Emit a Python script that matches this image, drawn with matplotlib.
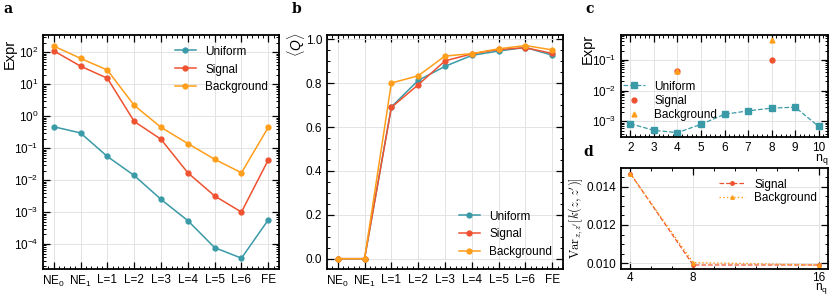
import matplotlib

matplotlib.use("Agg")
import matplotlib.pyplot as plt
from matplotlib.ticker import AutoMinorLocator, FixedLocator, LogLocator, NullFormatter

plt.rcParams["font.family"] = ["Liberation Sans", "DejaVu Sans"]
plt.rcParams["mathtext.fontset"] = "custom"
plt.rcParams["mathtext.rm"] = "Liberation Sans"
plt.rcParams["mathtext.it"] = "Liberation Sans:italic"

# Colours
UNIFORM = "#3a9aa8"
SIGNAL = "#ef5230"
BACKGROUND = "#ff9e1b"

# Panel a / b: circuit stages
stages = ["NE$_0$", "NE$_1$", "L=1", "L=2", "L=3", "L=4", "L=5", "L=6", "FE"]
expr_uniform = [0.47, 0.30, 0.055, 0.014, 0.0025, 0.00054, 7.7e-5, 3.6e-5, 5.7e-4]
expr_signal = [112, 37, 15.5, 0.69, 0.19, 0.017, 0.0032, 0.001, 0.043]
expr_background = [158, 65, 28, 2.2, 0.45, 0.14, 0.045, 0.017, 0.45]

q_uniform = [0.0, 0.0, 0.692, 0.813, 0.877, 0.927, 0.947, 0.963, 0.928]
q_signal = [0.0, 0.0, 0.690, 0.793, 0.902, 0.934, 0.954, 0.962, 0.936]
q_background = [0.0, 0.0, 0.801, 0.834, 0.924, 0.935, 0.957, 0.972, 0.952]

# Panel c: expressibility vs number of qubits
nq_uniform = [2, 3, 4, 5, 6, 7, 8, 9, 10]
c_uniform = [8.4e-4, 5.1e-4, 4.3e-4, 8.0e-4, 1.7e-3, 2.2e-3, 2.7e-3, 2.9e-3, 6.9e-4]
nq_data = [4, 8]
c_signal = [0.043, 0.10]
c_background = [0.043, 0.45]

# Panel d: kernel variance
nq_var = [4, 8, 16]
var_signal = [0.01470, 0.00990, 0.00990]
var_background = [0.01468, 0.01003, 0.00990]

W, H = 831, 295
fig = plt.figure(figsize=(W / 100, H / 100), dpi=100)


def px_axes(left, right, top, bottom):
    return fig.add_axes([left / W, 1 - bottom / H, (right - left) / W, (bottom - top) / H])


def style(ax):
    for s in ax.spines.values():
        s.set_linewidth(1.3)
    ax.tick_params(which="both", direction="in", top=True, right=True, labelsize=8.5)
    ax.tick_params(which="major", length=5, width=0.9)
    ax.tick_params(which="minor", length=2.5, width=0.7)
    ax.grid(True, color="#e3e3e3", linewidth=0.7)
    ax.set_axisbelow(True)


def panel_label(x, y, s):
    fig.text(x / W, 1 - y / H, s, family="DejaVu Serif", fontweight="bold",
             fontsize=10, va="center")


line_kw = dict(marker="o", markersize=3.5, linewidth=1.1)

# ---- a ----
ax_a = px_axes(43, 279, 35, 269)
style(ax_a)
x = list(range(len(stages)))
ax_a.plot(x, expr_uniform, color=UNIFORM, label="Uniform", **line_kw)
ax_a.plot(x, expr_signal, color=SIGNAL, label="Signal", **line_kw)
ax_a.plot(x, expr_background, color=BACKGROUND, label="Background", **line_kw)
ax_a.set_yscale("log")
ax_a.set_ylim(1.65e-5, 350)
ax_a.set_xlim(-0.4, 8.4)
ax_a.set_xticks(x)
ax_a.set_xticklabels(stages)
ax_a.xaxis.set_minor_locator(AutoMinorLocator(5))
ax_a.yaxis.set_major_locator(LogLocator(base=10, numticks=20))
ax_a.yaxis.set_minor_locator(LogLocator(base=10, subs=range(2, 10), numticks=20))
ax_a.yaxis.set_minor_formatter(NullFormatter())
ax_a.set_ylabel("Expr", fontsize=10.5)
ax_a.yaxis.set_label_coords(-0.11, 0.92)
ax_a.legend(loc="upper right", frameon=False, fontsize=8.5, handlelength=1.8)
panel_label(3, 9, "a")

# ---- b ----
ax_b = px_axes(327, 563, 35, 269)
style(ax_b)
ax_b.plot(x, q_uniform, color=UNIFORM, label="Uniform", **line_kw)
ax_b.plot(x, q_signal, color=SIGNAL, label="Signal", **line_kw)
ax_b.plot(x, q_background, color=BACKGROUND, label="Background", **line_kw)
ax_b.set_ylim(-0.047, 1.02)
ax_b.set_xlim(-0.4, 8.4)
ax_b.set_xticks(x)
ax_b.set_xticklabels(stages)
ax_b.set_yticks([0.0, 0.2, 0.4, 0.6, 0.8, 1.0])
ax_b.xaxis.set_minor_locator(AutoMinorLocator(5))
ax_b.yaxis.set_minor_locator(AutoMinorLocator(4))
ax_b.set_ylabel(r"$\langle Q \rangle$", fontsize=10)
ax_b.yaxis.set_label_coords(-0.085, 0.96)
ax_b.legend(loc="lower right", frameon=False, fontsize=8.5, handlelength=1.8)
panel_label(292, 9, "b")

# ---- c ----
ax_c = px_axes(621, 828, 35, 137)
style(ax_c)
ax_c.plot(nq_uniform, c_uniform, color=UNIFORM, linestyle="--", marker="s",
          markersize=4, linewidth=0.9, label="Uniform")
ax_c.plot(nq_data, c_signal, color=SIGNAL, linestyle="none", marker="o",
          markersize=3.5, label="Signal")
ax_c.plot(nq_data, c_background, color=BACKGROUND, linestyle="none", marker="^",
          markersize=3.5, label="Background")
ax_c.set_yscale("log")
ax_c.set_ylim(3.1e-4, 0.65)
ax_c.set_xlim(1.6, 10.4)
ax_c.set_xticks(nq_uniform)
ax_c.xaxis.set_minor_locator(AutoMinorLocator(5))
ax_c.yaxis.set_major_locator(LogLocator(base=10, numticks=20))
ax_c.yaxis.set_minor_locator(LogLocator(base=10, subs=range(2, 10), numticks=20))
ax_c.yaxis.set_minor_formatter(NullFormatter())
ax_c.set_ylabel("Expr", fontsize=10.5)
ax_c.yaxis.set_label_coords(-0.125, 0.86)
ax_c.set_xlabel(r"n$_\mathrm{q}$", loc="right", fontsize=9, labelpad=-1)
ax_c.legend(loc="lower left", bbox_to_anchor=(-0.04, 0.05), frameon=False,
            fontsize=8.5, handlelength=1.8, labelspacing=0.2)
panel_label(585, 9, "c")

# ---- d ----
ax_d = px_axes(621, 828, 168, 269)
style(ax_d)
ax_d.tick_params(axis="x", pad=2)
ax_d.plot(nq_var, var_signal, color=SIGNAL, linestyle="--", marker="o",
          markersize=2.5, linewidth=0.9, label="Signal")
ax_d.plot(nq_var, var_background, color=BACKGROUND, linestyle=":", marker="^",
          markersize=2.5, linewidth=1.0, label="Background")
ax_d.set_ylim(0.00969, 0.01499)
ax_d.set_xlim(3.4, 16.6)
ax_d.set_xticks(nq_var)
ax_d.xaxis.set_minor_locator(FixedLocator([5.333, 6.667, 9.333, 10.667, 12, 13.333, 14.667]))
ax_d.set_yticks([0.010, 0.012, 0.014])
ax_d.yaxis.set_minor_locator(AutoMinorLocator(4))
ax_d.set_ylabel(r"$\mathrm{Var}_{z,z'}[k(z,z')]$", fontsize=9, math_fontfamily="cm")
ax_d.yaxis.set_label_coords(-0.175, 0.5)
ax_d.set_xlabel(r"n$_\mathrm{q}$", loc="right", fontsize=8.5, labelpad=-2)
ax_d.legend(loc="upper right", frameon=False, fontsize=8.5, handlelength=2.2, labelspacing=0.15)
panel_label(583, 152, "d")

fig.savefig("out.png", dpi=100)
